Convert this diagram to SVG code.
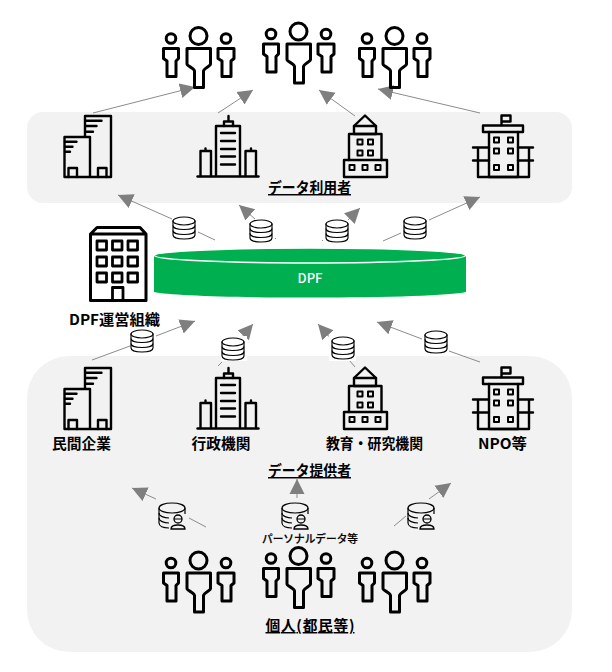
<svg xmlns="http://www.w3.org/2000/svg" width="612" height="672" viewBox="0 0 612 672">
<style>
text{font-family:"Noto Sans CJK JP","Noto Sans",sans-serif;fill:#000;text-anchor:middle}
.b{font-weight:700;font-size:14.700px}
.u{text-decoration:underline}
.s{font-size:11px;font-weight:500;stroke:#000;stroke-width:.2}
.ic{fill:none;stroke:#000;stroke-width:2.400;stroke-linejoin:round;stroke-linecap:round}
.win{fill:none;stroke:#000;stroke-width:2;stroke-linejoin:round}
.p{fill:none;stroke:#000;stroke-width:3;stroke-linejoin:round}
.db{fill:#fff;stroke:#000;stroke-width:1.150}
.l{fill:none;stroke:#8c8c8c;stroke-width:1}
.w{fill:#fff}
</style>
<defs>
<marker id="ah" markerUnits="userSpaceOnUse" markerWidth="18" markerHeight="18" refX="15" refY="8" orient="auto"><path d="M0 0.500L15 8L0 15.500z" fill="#7f7f7f"/></marker>
<g id="people" class="p">
<circle cx="171" cy="38.500" r="4.800"/>
<path d="M163.500 48.500H178.500V58.500L176 61V76.500H167V61L163.500 58.500z"/>
<circle cx="198.500" cy="36" r="8.500"/>
<path d="M187 48.500H210.500V64C210.500 66 204 68 203.500 71V87.500H194.500V71C194 68 187 66 187 64z"/>
<circle cx="226" cy="38.500" r="4.800"/>
<path d="M218 48.500H234V58.500L231 61V76.500H222V61L218 58.500z"/>
</g>
<g id="towers" class="ic">
<path d="M85 136V116H111V177H64.500V137H90V177"/>
<path d="M86 120.700H101.500M86 126H96.500M86 131.700H93M65 141.700H76.500M65 146.700H72.500M65 151.700H70"/>
<path d="M68.500 177V168H77V177M98 177V168H106.500V177"/>
</g>
<g id="office" class="ic">
<path d="M197.500 176.500H258.500"/>
<path d="M216 176V126H240V176"/>
<path d="M224 126V121.500H233V126M228.500 121.500V116"/>
<path d="M200.500 176V151H211V176M245.500 176V151H256V176M205.500 151V148.500M251 151V148.500"/>
<path d="M221 133H235M221 141H235M221 149H235M221 156.500H235M221 164.500H235"/>
</g>
<g id="school">
<g class="ic">
<path d="M354 126L365 115.500L376 126V134H354z"/>
<path d="M354 126H376"/>
<path d="M349 160V134H381.500V160"/>
<path d="M344 160H387V177H344z"/>
</g>
<path class="win" d="M357.500 139.500h5v5h-5zM368 139.500h5v5h-5zM357.500 150.500h5v5h-5zM368 150.500h5v5h-5zM349.500 165h5v5h-5zM362.500 165h5v5h-5zM375.500 165h5v5h-5z"/>
</g>
<g id="npo">
<g class="ic">
<path d="M501.500 125V115.500H510.500V121.500H501.500"/>
<path d="M483 125.500H523V132H483z"/>
<path d="M489 132V177H518V132"/>
<path d="M473 147.500H489M518 147.500H533M473 160.500H489M518 160.500H533M478 148V177H529V148"/>
</g>
<path class="win" d="M494 137.500h5v5h-5zM508 137.500h5v5h-5zM494 148.500h5v5h-5zM508 148.500h5v5h-5zM494 165h5v5h-5zM508 165h5v5h-5z"/>
</g>
<g id="dbi" class="db">
<path d="M-11 -7V7C-11 9.500 -6 11 0 11S11 9.500 11 7V-7z"/>
<ellipse cx="0" cy="-7" rx="11" ry="4"/>
<path d="M-11 -2.500C-11 0 -6 1.500 0 1.500S11 0 11 -2.500M-11 2.500C-11 5 -6 6.500 0 6.500S11 5 11 2.500" fill="none"/>
</g>
<g id="pdb">
<path d="M-3 13C-9 13 -13 11 -13 8V-7C-13 -10 -7 -12 0 -12S13 -10 13 -7V-1" fill="none" stroke="#000" stroke-width="1.200"/>
<path d="M-13 -7C-13 -4 -7 -2 0 -2S13 -4 13 -7M-13 -2C-13 1 -8 3 -3 3M-13 3C-13 6 -8 8 -3 8" fill="none" stroke="#000" stroke-width="1.200"/>
<circle cx="6" cy="4" r="4" fill="#f2f2f2" stroke="#000" stroke-width="1.300"/>
<path d="M-1 14C-1 10.500 2 10 6 10S13 10.500 13 14z" fill="#f2f2f2" stroke="#000" stroke-width="1.300"/>
<path d="M2 4H10" stroke="#000" stroke-width="1"/>
</g>
</defs>
<g id="panels">
<rect x="27" y="112" width="545" height="91" rx="16" fill="#f2f2f2"/>
<rect x="27" y="356" width="545" height="296" rx="42" fill="#f2f2f2"/>
</g>
<g id="connectors">
<path class="l" d="M93 113L195 87" marker-end="url(#ah)"/>
<path class="l" d="M218 113L253 90" marker-end="url(#ah)"/>
<path class="l" d="M355 116L319 90" marker-end="url(#ah)"/>
<path class="l" d="M480 113L378 89" marker-end="url(#ah)"/>
<path class="l" d="M215 240L198 232M172 219L118 195" marker-end="url(#ah)"/>
<path class="l" d="M276 239L275 238M255 219L239 205" marker-end="url(#ah)"/>
<path class="l" d="M322 241L323 240M348 220L360 208" marker-end="url(#ah)"/>
<path class="l" d="M383 241L401 233M429 220L480 197" marker-end="url(#ah)"/>
<path class="l" d="M92 360L130 346M156 336L195 321" marker-end="url(#ah)"/>
<path class="l" d="M218 366L222 362M241 338L253 324" marker-end="url(#ah)"/>
<path class="l" d="M355 367L349 360M333 341L318 324" marker-end="url(#ah)"/>
<path class="l" d="M480 362L449 351M422 339L377 322" marker-end="url(#ah)"/>
<path class="l" d="M206 527L189 518M156 499L132 488" marker-end="url(#ah)"/>
<path class="l" d="M297 498V479" marker-end="url(#ah)"/>
<path class="l" d="M394 526L406 516M429 499L451 483" marker-end="url(#ah)"/>
</g>
<g id="db-icons">
<rect class="w" x="221" y="336" width="26" height="25"/>
<rect class="w" x="329" y="336" width="27" height="25"/>
<use href="#dbi" x="184" y="228"/>
<use href="#dbi" x="261" y="231"/>
<use href="#dbi" x="337" y="231"/>
<use href="#dbi" x="415" y="228"/>
<use href="#dbi" x="142" y="341"/>
<use href="#dbi" x="233" y="349"/>
<use href="#dbi" x="343" y="348"/>
<use href="#dbi" x="436" y="342"/>
<use href="#pdb" x="172" y="515"/>
<use href="#pdb" x="295" y="515"/>
<use href="#pdb" x="421" y="515"/>
</g>
<g id="users-top">
<use href="#people"/>
<use href="#people" x="100" y="-4.500"/>
<use href="#people" x="196"/>
</g>
<g id="users-panel">
<use href="#towers"/><use href="#office"/><use href="#school"/><use href="#npo"/>
<text class="b u" x="309.500" y="193" textLength="83" lengthAdjust="spacingAndGlyphs">データ利用者</text>
</g>
<g id="dpf-operator">
<path class="ic" style="stroke-width:3" d="M90.500 300.500V234L97 227.500H140L146 234V300.500z M90.500 234H146"/>
<path class="ic" style="stroke-width:2.800" d="M97 241h9.500v9h-9.500zM112.500 241h9.500v9h-9.500zM128 241h9.500v9h-9.500zM97 257h9.500v9h-9.500zM112.500 257h9.500v9h-9.500zM128 257h9.500v9h-9.500zM97 273h9.500v9h-9.500zM112.500 273h9.500v9h-9.500zM128 273h9.500v9h-9.500zM112.500 300V287.500H123V300"/>
<text class="b" x="114.500" y="325" textLength="91" lengthAdjust="spacingAndGlyphs">DPF運営組織</text>
</g>
<g id="dpf">
<path d="M154 256V292C170 295.500 230 297.500 310 297.500S450 295.500 466 292V256z" fill="#00b050"/>
<ellipse cx="310" cy="255.500" rx="155.500" ry="7.500" fill="#00b050" stroke="#fff" stroke-width="1.500"/>
<text x="310" y="283" style="font-size:13px;font-weight:500;fill:#fff">DPF</text>
</g>
<g id="providers">
<use href="#towers" y="252"/><use href="#office" y="252"/><use href="#school" y="252"/><use href="#npo" y="252"/>
<text class="b" x="81.500" y="449" textLength="59">民間企業</text>
<text class="b" x="221" y="449" textLength="59">行政機関</text>
<text class="b" x="374.500" y="449" textLength="97" lengthAdjust="spacingAndGlyphs">教育・研究機関</text>
<text class="b" x="502.500" y="449" textLength="49" lengthAdjust="spacingAndGlyphs">NPO等</text>
<text class="b u" x="309.500" y="476" textLength="83" lengthAdjust="spacingAndGlyphs">データ提供者</text>
</g>
<g id="individuals">
<text class="s" x="310" y="543" textLength="96" lengthAdjust="spacingAndGlyphs">パーソナルデータ等</text>
<use href="#people" y="524.500"/>
<use href="#people" x="100" y="520"/>
<use href="#people" x="196" y="524.500"/>
<text class="b u" x="310" y="631" textLength="89">個人(都民等)</text>
</g>
</svg>
